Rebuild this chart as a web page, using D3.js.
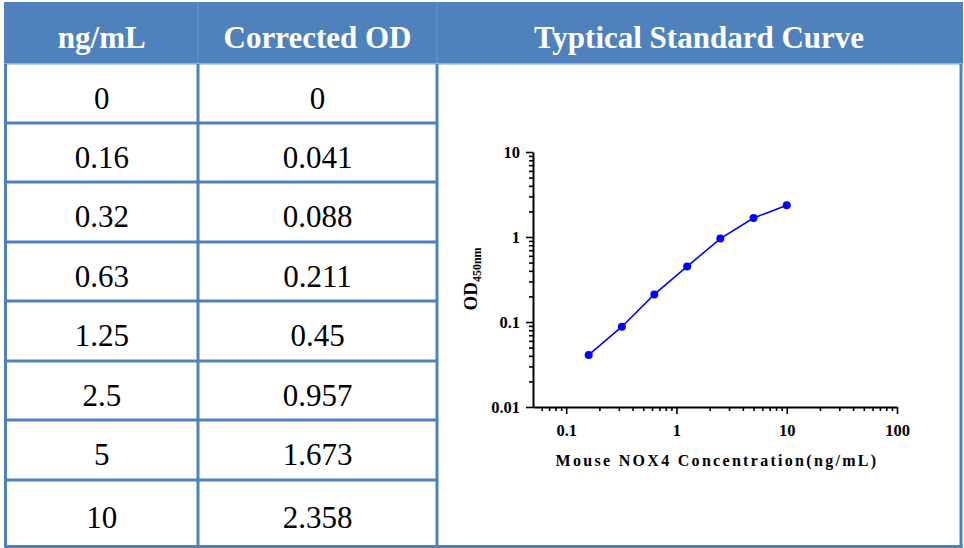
<!DOCTYPE html>
<html>
<head>
<meta charset="utf-8">
<script src="https://cdn.jsdelivr.net/npm/d3@7"></script>
<style>
  html, body { margin: 0; padding: 0; background: #ffffff; }
  svg { display: block; }
</style>
</head>
<body>
<svg id="chart" width="964" height="548"></svg>
<script>
// ---------------- DATA ----------------
const headers = ["ng/mL", "Corrected OD", "Typtical Standard Curve"];
const concentrations = ["0", "0.16", "0.32", "0.63", "1.25", "2.5", "5", "10"];
const correctedOD = ["0", "0.041", "0.088", "0.211", "0.45", "0.957", "1.673", "2.358"];
const curveX = [0.16, 0.32, 0.63, 1.25, 2.5, 5, 10];
const curveY = [0.041, 0.088, 0.211, 0.45, 0.957, 1.673, 2.358];
const xTickValues = [0.1, 1, 10, 100];
const xTickLabels = ["0.1", "1", "10", "100"];
const yTickValues = [0.01, 0.1, 1, 10];
const yTickLabels = ["0.01", "0.1", "1", "10"];
const xAxisTitle = "Mouse NOX4 Concentration(ng/mL)";
const yAxisTitle = "OD";
const yAxisSub = "450nm";

// ---------------- LAYOUT ----------------
const blue = "#4F81BD";
const svg = d3.select("#chart");
const colEdges = [5.5, 198, 437, 961];
const headerTop = 2, headerBottom = 64;
const rowEdges = [64, 123, 182, 242, 301, 361, 420, 480, 546.5];
const serif = "'Liberation Serif', 'Times New Roman', Times, serif";

// header band
svg.append("rect")
  .attr("x", 4).attr("y", headerTop)
  .attr("width", 959).attr("height", headerBottom - headerTop)
  .attr("fill", blue);
// faint header separators
svg.append("g").selectAll("line").data([colEdges[1], colEdges[2]]).join("line")
  .attr("x1", d => d).attr("x2", d => d)
  .attr("y1", headerTop).attr("y2", headerBottom)
  .attr("stroke", "#6a93c8").attr("stroke-width", 1);
svg.append("line")
  .attr("x1", 4).attr("x2", 963).attr("y1", headerBottom).attr("y2", headerBottom)
  .attr("stroke", "#a9c1e0").attr("stroke-width", 1.5);

// header texts
const headerCenters = [
  (colEdges[0] + colEdges[1]) / 2,
  (colEdges[1] + colEdges[2]) / 2,
  (colEdges[2] + colEdges[3]) / 2
];
svg.append("g").selectAll("text").data(headers).join("text")
  .attr("x", (d, i) => headerCenters[i])
  .attr("y", 48)
  .attr("text-anchor", "middle")
  .attr("font-family", serif)
  .attr("font-weight", "bold")
  .attr("font-size", 31)
  .attr("fill", "#ffffff")
  .text(d => d);

// table grid lines (body)
const grid = svg.append("g").attr("stroke", blue).attr("stroke-width", 3);
grid.selectAll("line.h").data(rowEdges.slice(1)).join("line")
  .attr("class", "h")
  .attr("x1", colEdges[0] - 1.5).attr("x2", (d, i) => i === rowEdges.length - 2 ? colEdges[3] + 1.5 : colEdges[2])
  .attr("y1", d => d).attr("y2", d => d);
grid.selectAll("line.v").data(colEdges).join("line")
  .attr("class", "v")
  .attr("x1", d => d).attr("x2", d => d)
  .attr("y1", headerBottom).attr("y2", rowEdges[rowEdges.length - 1] + 1.5);

// body text
const rowsG = svg.append("g")
  .attr("font-family", serif)
  .attr("font-size", 31)
  .attr("fill", "#000000")
  .attr("text-anchor", "middle");
rowsG.selectAll("text.c").data(concentrations).join("text")
  .attr("class", "c")
  .attr("x", headerCenters[0])
  .attr("y", (d, i) => (rowEdges[i] + rowEdges[i + 1]) / 2 + 15)
  .text(d => d);
rowsG.selectAll("text.o").data(correctedOD).join("text")
  .attr("class", "o")
  .attr("x", headerCenters[1])
  .attr("y", (d, i) => (rowEdges[i] + rowEdges[i + 1]) / 2 + 15)
  .text(d => d);

// ---------------- CHART ----------------
const x = d3.scaleLog().domain([0.05, 100]).range([533, 897]);
const y = d3.scaleLog().domain([0.01, 10]).range([407, 152]);

function minorTicks(lo, hi) {
  const out = [];
  for (let e = Math.floor(Math.log10(lo)); e < Math.ceil(Math.log10(hi)); e++) {
    for (let m = 2; m <= 9; m++) {
      const v = m * Math.pow(10, e);
      if (v > lo * 1.0001 && v < hi * 0.9999) out.push(v);
    }
  }
  return out;
}

const axisFont = serif;
const tickFontSize = 16.5;
// X axis
const gx = svg.append("g").attr("transform", "translate(0,407)");
gx.call(d3.axisBottom(x).tickValues(minorTicks(0.05, 100)).tickSize(4).tickFormat(""));
gx.call(g => g.select(".domain").remove());
const gxMaj = svg.append("g").attr("transform", "translate(0,407)");
gxMaj.call(d3.axisBottom(x).tickValues(xTickValues).tickSize(7).tickSizeOuter(0)
  .tickFormat((d, i) => xTickLabels[i]).tickPadding(10));
[gx, gxMaj].forEach(g => {
  g.selectAll("line").attr("stroke", "#000").attr("stroke-width", 1.6);
  g.selectAll("path.domain").attr("stroke", "#000").attr("stroke-width", 2);
  g.selectAll("text").attr("font-family", axisFont).attr("font-weight", "bold")
    .attr("font-size", tickFontSize).attr("fill", "#000");
});

// Y axis
const gy = svg.append("g").attr("transform", "translate(533,0)");
gy.call(d3.axisLeft(y).tickValues(minorTicks(0.01, 10)).tickSize(4).tickFormat(""));
gy.call(g => g.select(".domain").remove());
const gyMaj = svg.append("g").attr("transform", "translate(533,0)");
gyMaj.call(d3.axisLeft(y).tickValues(yTickValues).tickSize(7).tickSizeOuter(0)
  .tickFormat((d, i) => yTickLabels[i]).tickPadding(6));
[gy, gyMaj].forEach(g => {
  g.selectAll("line").attr("stroke", "#000").attr("stroke-width", 1.6);
  g.selectAll("path.domain").attr("stroke", "#000").attr("stroke-width", 2);
  g.selectAll("text").attr("font-family", axisFont).attr("font-weight", "bold")
    .attr("font-size", tickFontSize).attr("fill", "#000");
});

// axis titles
svg.append("text")
  .attr("x", (x(0.05) + x(100)) / 2 + 2)
  .attr("y", 466)
  .attr("text-anchor", "middle")
  .attr("font-family", axisFont)
  .attr("font-weight", "bold")
  .attr("font-size", 16)
  .attr("letter-spacing", 2.3)
  .attr("fill", "#000")
  .text(xAxisTitle);

const yt = svg.append("text")
  .attr("transform", "translate(477,279) rotate(-90)")
  .attr("text-anchor", "middle")
  .attr("font-family", axisFont)
  .attr("font-weight", "bold")
  .attr("fill", "#000");
yt.append("tspan").attr("font-size", 19).text(yAxisTitle);
yt.append("tspan").attr("font-size", 12).attr("dy", 4).text(yAxisSub);

// curve
const pts = curveX.map((v, i) => [v, curveY[i]]);
svg.append("path")
  .datum(pts)
  .attr("fill", "none")
  .attr("stroke", "#0000ff")
  .attr("stroke-width", 1.6)
  .attr("d", d3.line().x(d => x(d[0])).y(d => y(d[1])));
svg.append("g").selectAll("circle").data(pts).join("circle")
  .attr("cx", d => x(d[0]))
  .attr("cy", d => y(d[1]))
  .attr("r", 4)
  .attr("fill", "#0000ff");
</script>
</body>
</html>
